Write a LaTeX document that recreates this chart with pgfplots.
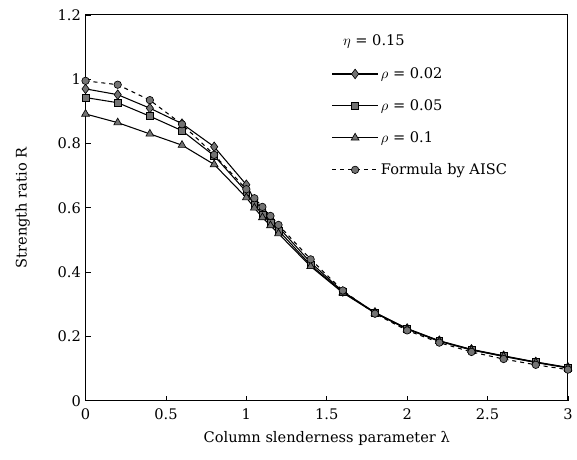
\documentclass[border=0pt]{standalone}
\usepackage{pgfplots}
\pgfplotsset{compat=1.18}
\usepackage{fontspec}
\setmainfont{DejaVu Serif}
\begin{document}
\begin{tikzpicture}
\begin{axis}[
  scale only axis,
  width=363.75pt, height=291pt,
  xmin=0, xmax=3, ymin=0, ymax=1.2,
  xtick={0,0.5,1,1.5,2,2.5,3},
  ytick={0,0.2,0.4,0.6,0.8,1,1.2},
  xticklabels={0,0.5,1,1.5,2,2.5,3},
  yticklabels={0,0.2,0.4,0.6,0.8,1,1.2},
  tick align=inside, xtick pos=bottom, ytick pos=left,
  major tick length=4pt,
  axis line style={line width=0.8pt},
  tick style={line width=0.6pt, black},
  xlabel={Column slenderness parameter λ},
  ylabel={Strength ratio R},
  xlabel style={at={(axis description cs:0.5,0)}, anchor=center, yshift=-28.5pt},
  ylabel style={at={(axis description cs:-0.13,0.5)}, anchor=center},
  xticklabel style={yshift=-2pt},
  label style={font=\fontsize{11}{13}\selectfont},
  ticklabel style={font=\fontsize{11}{13}\selectfont},
  legend style={draw=none, fill=none, at={(0.502,0.878)}, anchor=north west,
    font=\fontsize{11}{13}\selectfont, row sep=10.4pt},
  legend cell align=left,
  legend image code/.code={\draw[mark repeat=2,mark phase=2,#1] plot coordinates {(0cm,0cm) (0.6cm,0cm) (1.2cm,0cm)};},
  every axis plot/.append style={line width=0.8pt, black, mark options={fill=black!55, draw=black, line width=0.5pt, solid}},
]
\addplot[mark=diamond*, mark size=3.6pt] coordinates {
(0,0.970) (0.2,0.952) (0.4,0.910) (0.6,0.862) (0.8,0.790) (1.0,0.672) (1.05,0.625) (1.1,0.593) (1.15,0.565) (1.2,0.540) (1.4,0.430) (1.6,0.340) (1.8,0.275) (2.0,0.225) (2.2,0.187) (2.4,0.160) (2.6,0.140) (2.8,0.121) (3.0,0.104)};
\addlegendentry{$\rho$ = 0.02}
\addplot[mark=square*, mark size=2.6pt] coordinates {
(0,0.943) (0.2,0.927) (0.4,0.885) (0.6,0.840) (0.8,0.762) (1.0,0.650) (1.05,0.610) (1.1,0.580) (1.15,0.555) (1.2,0.530) (1.4,0.422) (1.6,0.338) (1.8,0.274) (2.0,0.224) (2.2,0.186) (2.4,0.159) (2.6,0.139) (2.8,0.120) (3.0,0.103)};
\addlegendentry{$\rho$ = 0.05}
\addplot[mark=triangle*, mark size=3.4pt] coordinates {
(0,0.892) (0.2,0.865) (0.4,0.830) (0.6,0.795) (0.8,0.735) (1.0,0.632) (1.05,0.600) (1.1,0.570) (1.15,0.545) (1.2,0.520) (1.4,0.418) (1.6,0.336) (1.8,0.273) (2.0,0.223) (2.2,0.185) (2.4,0.158) (2.6,0.138) (2.8,0.119) (3.0,0.102)};
\addlegendentry{$\rho$ = 0.1}
\addplot[dashed, mark=*, mark size=2.8pt] coordinates {
(0,0.995) (0.2,0.983) (0.4,0.935) (0.6,0.860) (0.8,0.765) (1.0,0.658) (1.05,0.630) (1.1,0.603) (1.15,0.575) (1.2,0.547) (1.4,0.440) (1.6,0.343) (1.8,0.271) (2.0,0.219) (2.2,0.181) (2.4,0.152) (2.6,0.130) (2.8,0.112) (3.0,0.097)};
\addlegendentry{Formula by AISC}
\node[anchor=west, font=\fontsize{11}{13}\selectfont] at (rel axis cs:0.524,0.930) {$\eta$ = 0.15};
\end{axis}
\path (current axis.south west) ++(-64.5pt,-44.25pt) rectangle (current axis.north east) ++(4.5pt,11.25pt);
\end{tikzpicture}
\end{document}
